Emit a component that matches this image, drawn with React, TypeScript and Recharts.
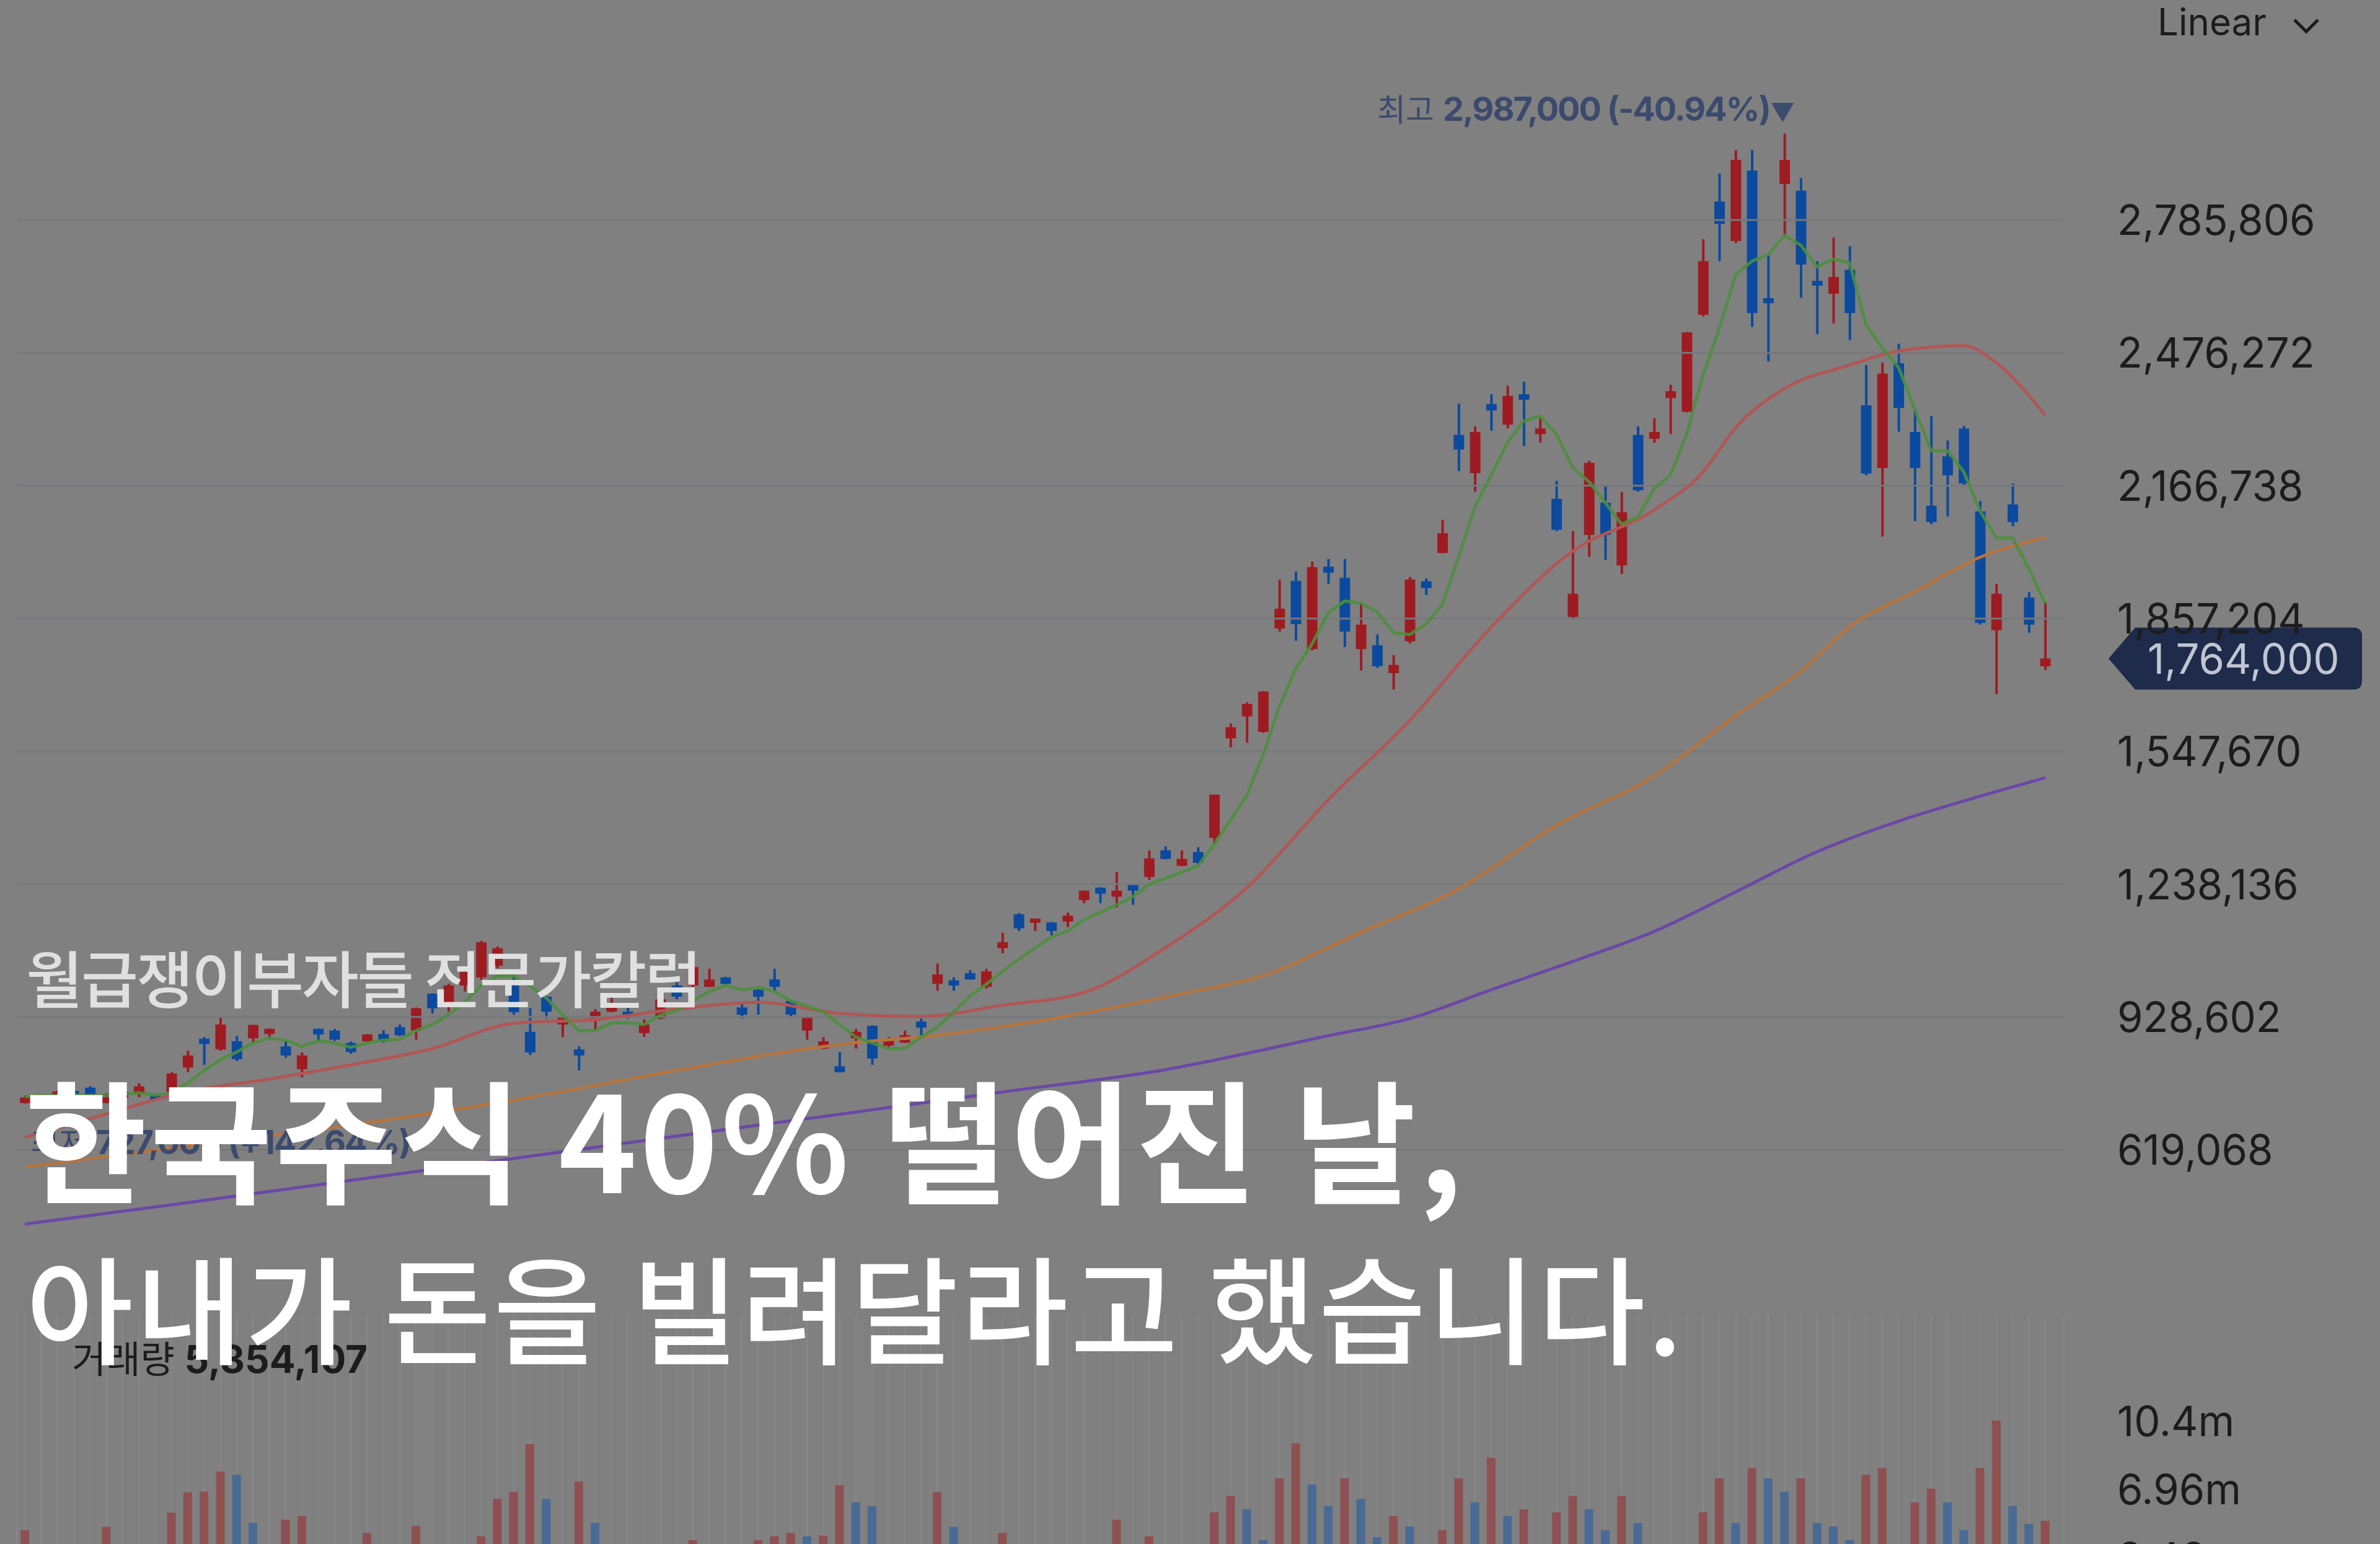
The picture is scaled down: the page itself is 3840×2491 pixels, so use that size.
import React from "react";
import {
  Bar,
  CartesianGrid,
  Cell,
  ComposedChart,
  Line,
  ReferenceDot,
  ReferenceLine,
  XAxis,
  YAxis,
} from "recharts";

// 일봉 시세 (단위: 천원)
const opens = [
  728, 733, 742, 756, 764, 728, 740, 749, 748, 754,
  811, 878, 853, 872, 879, 889, 860, 807, 901, 897,
  868, 872, 889, 905, 897, 983, 959, 1002, 1021, 1048,
  1002, 894, 976, 911, 853, 920, 941, 941, 891, 925,
  1002, 1002, 999, 1021, 951, 992, 1016, 966, 897, 855,
  814, 879, 908, 862, 869, 918, 1006, 1014, 1031, 999,
  1089, 1168, 1148, 1149, 1151, 1201, 1230, 1209, 1239, 1255,
  1317, 1281, 1313, 1346, 1578, 1629, 1593, 1834, 1945, 1786,
  1978, 1952, 1786, 1795, 1730, 1804, 1944, 2010, 2285, 2196,
  2357, 2309, 2380, 2287, 2136, 1861, 2052, 2127, 1981, 2285,
  2276, 2371, 2339, 2565, 2829, 2737, 2901, 2604, 2870, 2854,
  2644, 2614, 2670, 2354, 2208, 2452, 2292, 2120, 2235, 2300,
  2107, 1830, 2123, 1906, 1746,
];
const highs = [
  745, 749, 758, 760, 767, 751, 760, 774, 749, 800,
  850, 882, 927, 884, 911, 902, 872, 846, 902, 901,
  872, 889, 898, 911, 951, 984, 1006, 1045, 1106, 1093,
  1027, 949, 977, 934, 860, 947, 977, 951, 923, 976,
  1009, 1055, 1041, 1022, 959, 993, 1041, 969, 931, 882,
  847, 901, 909, 882, 897, 925, 1053, 1021, 1038, 1041,
  1125, 1171, 1158, 1150, 1172, 1224, 1231, 1266, 1240, 1317,
  1326, 1317, 1324, 1447, 1613, 1662, 1688, 1948, 1967, 1990,
  1996, 1996, 1895, 1820, 1772, 1954, 1951, 2087, 2358, 2305,
  2380, 2400, 2409, 2325, 2178, 2061, 2225, 2169, 2152, 2305,
  2324, 2402, 2525, 2741, 2894, 2949, 2949, 2705, 2987, 2884,
  2690, 2745, 2725, 2448, 2454, 2498, 2344, 2329, 2272, 2306,
  2131, 1938, 2172, 1919, 1895,
];
const lows = [
  727, 730, 738, 745, 733, 728, 736, 742, 733, 732,
  800, 817, 850, 826, 869, 882, 834, 788, 872, 873,
  843, 869, 869, 884, 876, 937, 941, 988, 1016, 1042,
  934, 840, 925, 882, 804, 897, 940, 925, 882, 923,
  970, 999, 998, 1002, 925, 934, 988, 927, 876, 854,
  799, 855, 817, 858, 868, 886, 990, 990, 1016, 995,
  1077, 1129, 1129, 1119, 1138, 1194, 1194, 1184, 1190, 1248,
  1296, 1280, 1284, 1334, 1557, 1568, 1591, 1827, 1805, 1783,
  1938, 1791, 1736, 1742, 1692, 1799, 1912, 2009, 2201, 2153,
  2295, 2300, 2259, 2267, 2061, 1857, 2001, 1994, 1961, 2153,
  2267, 2287, 2338, 2561, 2690, 2732, 2537, 2456, 2750, 2605,
  2520, 2545, 2506, 2191, 2048, 2293, 2084, 2077, 2095, 2168,
  1843, 1681, 2072, 1824, 1737,
];
const closes = [
  741, 748, 755, 750, 736, 741, 755, 767, 736, 797,
  839, 866, 911, 830, 910, 901, 839, 839, 888, 876,
  847, 888, 872, 886, 949, 949, 1002, 1034, 1103, 1089,
  940, 846, 941, 930, 839, 941, 954, 927, 911, 970,
  976, 1045, 1016, 1006, 934, 976, 999, 934, 927, 872,
  800, 894, 832, 876, 886, 904, 1028, 1002, 1016, 1035,
  1103, 1135, 1158, 1129, 1165, 1223, 1216, 1223, 1223, 1298,
  1297, 1297, 1288, 1447, 1604, 1658, 1687, 1880, 1844, 1977,
  1964, 1827, 1843, 1746, 1749, 1948, 1928, 2056, 2251, 2292,
  2342, 2376, 2367, 2300, 2064, 1915, 2220, 2052, 2105, 2156,
  2292, 2387, 2524, 2690, 2777, 2926, 2569, 2592, 2926, 2682,
  2633, 2653, 2569, 2195, 2428, 2348, 2208, 2082, 2191, 2172,
  1847, 1915, 2082, 1843, 1764,
];

// 5일 이동평균 (천원), 봉마다 읽음
const ma5 = [
  743, 746, 746, 746, 746, 746, 749, 752, 746, 752,
  775, 804, 829, 847, 868, 879, 875, 860, 873, 868,
  858, 868, 875, 876, 897, 911, 934, 963, 1002, 1024,
  1024, 1002, 973, 934, 897, 897, 915, 915, 911, 933,
  944, 966, 988, 1002, 992, 998, 988, 966, 954, 940,
  911, 882, 868, 855, 855, 882, 905, 940, 977, 1005,
  1035, 1063, 1090, 1115, 1129, 1155, 1172, 1190, 1209, 1237,
  1252, 1266, 1281, 1331, 1388, 1445, 1539, 1653, 1740, 1798,
  1870, 1898, 1893, 1873, 1824, 1820, 1844, 1890, 2001, 2118,
  2192, 2267, 2318, 2329, 2287, 2209, 2176, 2127, 2077, 2094,
  2160, 2192, 2287, 2425, 2533, 2659, 2690, 2705, 2750, 2727,
  2677, 2695, 2686, 2542, 2488, 2442, 2344, 2248, 2248, 2199,
  2108, 2045, 2045, 1973, 1892,
];

// 20/60/120일 이동평균: [봉 번호, 천원] 그림에서 읽은 지점
const ma20Points: [number, number][] = [
  [0, 648], [5, 703], [10, 755], [15, 784], [20, 817], [25, 855], [30, 914],
  [35, 923], [40, 947], [45, 963], [50, 937], [55, 930], [60, 956], [65, 986],
  [70, 1090], [75, 1230], [80, 1435], [85, 1620], [90, 1837], [95, 2014],
  [100, 2110], [103, 2199], [105, 2302], [108, 2393], [112, 2448], [115, 2481],
  [119, 2493], [121, 2453], [124, 2331],
];
const ma60Points: [number, number][] = [
  [0, 579], [10, 628], [20, 677], [30, 735], [40, 804], [46, 843], [51, 869],
  [55, 882], [62, 918], [71, 983], [76, 1025], [82, 1126], [88, 1227],
  [94, 1375], [100, 1490], [105, 1631], [109, 1734], [112, 1838], [116, 1920],
  [120, 2000], [124, 2046],
];
const ma120Points: [number, number][] = [
  [0, 446], [10, 496], [20, 548], [30, 599], [40, 651], [50, 702], [60, 754],
  [70, 806], [80, 885], [85, 925], [90, 992], [95, 1058], [100, 1128],
  [105, 1220], [110, 1314], [115, 1385], [120, 1443], [124, 1486],
];

// 거래량 (천주)
const volumes = [
  4890, 3200, 2800, 2500, 3600, 5050, 3100, 3900, 2700, 5770,
  6820, 6850, 7880, 7710, 5260, 3400, 5420, 5600, 3500, 2900,
  3300, 4740, 3000, 3600, 5100, 3800, 3200, 3900, 4560, 6480,
  6840, 9270, 6480, 3900, 7370, 5260, 3700, 2900, 3400, 3800,
  3100, 4370, 3600, 2600, 3300, 4370, 4560, 4740, 4560, 4600,
  7180, 6300, 6110, 3900, 3500, 3800, 6820, 5050, 3700, 3900,
  4740, 3600, 2900, 3200, 3000, 3700, 2800, 5420, 3300, 4560,
  3400, 2700, 3600, 5790, 6630, 5950, 4370, 7530, 9320, 7210,
  6110, 7530, 6480, 4520, 5600, 5070, 3800, 4890, 7530, 6300,
  8580, 5600, 5950, 3900, 5790, 6630, 5950, 4890, 6630, 5240,
  3800, 3500, 4000, 5790, 7530, 5240, 8060, 7530, 6840, 7530,
  5240, 5070, 4370, 7710, 8060, 3900, 6300, 7000, 6300, 4890,
  8060, 10480, 6110, 5200, 5354.107,
];

const priceTicks = [619068, 928602, 1238136, 1547670, 1857204, 2166738, 2476272, 2785806];
const volumeTicks = [3480000, 6960000, 10440000];

const BG = "#808080";
const GRID = "#76787b";
const AXIS_TEXT = "#1c1c1c";
const UP = "#9f1b22";
const DOWN = "#0b4a9e";
const VOL_UP = "#8e5052";
const VOL_DOWN = "#496a94";
const LABEL_NAVY = "#3b4a6d";
const KR = "'Noto Sans CJK KR', sans-serif";
const LATIN = "Inter, 'Noto Sans', sans-serif";

const W = 3840;
const H = 2491;
const AXIS_W = 480;
const PRICE_MARGIN = { top: 100, right: 30, bottom: 20, left: 27 };
const VOL_MARGIN = { top: 0, right: 30, bottom: 0, left: 27 };

const toMap = (pts: [number, number][]) => new Map(pts.map(([i, v]) => [i, v * 1000]));
const ma20Map = toMap(ma20Points);
const ma60Map = toMap(ma60Points);
const ma120Map = toMap(ma120Points);

const rows = closes.map((c, i) => ({
  i,
  open: opens[i] * 1000,
  high: highs[i] * 1000,
  low: lows[i] * 1000,
  close: c * 1000,
  ma5: ma5[i] * 1000,
  ma20: ma20Map.get(i) ?? null,
  ma60: ma60Map.get(i) ?? null,
  ma120: ma120Map.get(i) ?? null,
  volume: Math.round(volumes[i] * 1000),
  volUp: i === 0 || volumes[i] >= volumes[i - 1],
}));

const last = rows[rows.length - 1];
const hiRow = rows.reduce((m, r) => (r.high > m.high ? r : m), rows[0]);
const loRow = rows.reduce((m, r) => (r.low < m.low ? r : m), rows[0]);

const won = (v: number) => Math.round(v).toLocaleString("en-US");
const pct = (v: number) => `${v > 0 ? "+" : ""}${v.toFixed(2)}%`;
const shortM = (v: number) => `${Number((v / 1e6).toPrecision(3))}m`;

function Candle(props: any) {
  const { x, y, width, height, payload } = props;
  if (x == null || y == null || !payload) return null;
  const top = Math.min(y, y + height);
  const h = Math.abs(height);
  const range = payload.high - payload.low;
  const py = (p: number) => (range === 0 ? top : top + ((payload.high - p) / range) * h);
  const color = payload.close >= payload.open ? UP : DOWN;
  const cx = x + width / 2;
  const bTop = py(Math.max(payload.open, payload.close));
  const bBot = py(Math.min(payload.open, payload.close));
  return (
    <g>
      <rect x={cx - 2} y={top} width={4} height={Math.max(h, 2)} fill={color} />
      <rect x={x} y={bTop} width={width} height={Math.max(bBot - bTop, 4)} fill={color} />
    </g>
  );
}

function AxisTick(props: any) {
  const { x, y, payload, fmt } = props;
  return (
    <text x={x + 86} y={y} dy="0.36em" fill={AXIS_TEXT} fontSize={67} fontFamily={LATIN}>
      {fmt(payload.value)}
    </text>
  );
}

function PriceTag(props: any) {
  const vb = props.viewBox;
  if (!vb) return null;
  const cy = vb.y;
  const l = 3402;
  const r = 3811;
  const d = `M ${l} ${cy} L ${l + 43} ${cy - 50} L ${r - 14} ${cy - 50} Q ${r} ${cy - 50} ${r} ${cy - 36} L ${r} ${cy + 36} Q ${r} ${cy + 50} ${r - 14} ${cy + 50} L ${l + 43} ${cy + 50} Z`;
  return (
    <g>
      <path d={d} fill="#1e2b4b" />
      <text x={3465} y={cy + 25} fill="#c0c6d2" fontSize={67} fontFamily={LATIN}>
        {won(last.close)}
      </text>
    </g>
  );
}

function HighLabel(props: any) {
  const vb = props.viewBox;
  if (!vb) return null;
  const cx = vb.x + (vb.width || 0) / 2;
  const cy = vb.y + (vb.height || 0) / 2;
  return (
    <text x={cx + 17} y={cy - 21} textAnchor="end" fill={LABEL_NAVY} fontFamily={LATIN}>
      <tspan fontFamily={KR} fontSize={50}>최고</tspan>
      <tspan dx={14} fontSize={54} fontWeight={700} letterSpacing={-2}>
        {`${won(hiRow.high)} (${pct(((last.close - hiRow.high) / hiRow.high) * 100)})`}
      </tspan>
      <tspan fontSize={40}>▼</tspan>
    </text>
  );
}

function LowLabel(props: any) {
  const vb = props.viewBox;
  if (!vb) return null;
  const cx = vb.x + (vb.width || 0) / 2;
  const cy = vb.y + (vb.height || 0) / 2;
  return (
    <text x={cx + 9} y={cy + 82} fill={LABEL_NAVY} fontFamily={LATIN}>
      <tspan fontFamily={KR} fontSize={50}>최저</tspan>
      <tspan dx={14} fontSize={54} fontWeight={700} letterSpacing={-2}>
        {`${won(loRow.low)} (${pct(((last.close - loRow.low) / loRow.low) * 100)})`}
      </tspan>
    </text>
  );
}

const lineProps = { dot: false, activeDot: false, connectNulls: true, isAnimationActive: false } as const;

export default function App() {
  return (
    <div style={{ position: "absolute", left: 0, top: 0, width: W, height: H, overflow: "hidden", background: BG }}>
      <div style={{ position: "absolute", left: 0, top: 0 }}>
        <ComposedChart width={W} height={2120} data={rows} margin={PRICE_MARGIN}>
          <XAxis dataKey="i" type="category" hide padding={{ left: 0, right: 17 }} />
          <YAxis
            orientation="right"
            width={AXIS_W}
            type="number"
            domain={[265328, 3154128]}
            allowDataOverflow
            ticks={priceTicks}
            interval={0}
            tickLine={false}
            axisLine={false}
            tickSize={0}
            tickMargin={0}
            tick={<AxisTick fmt={won} />}
          />
          {priceTicks.map((t) => (
            <ReferenceLine key={t} y={t} stroke={GRID} strokeWidth={3} />
          ))}
          <Bar
            dataKey={(d: any) => [d.low, d.high]}
            barSize={17}
            shape={<Candle />}
            isAnimationActive={false}
          />
          <Line dataKey="ma120" type="monotone" stroke="#6a48a6" strokeWidth={5} {...lineProps} />
          <Line dataKey="ma60" type="monotone" stroke="#b5743f" strokeWidth={5} {...lineProps} />
          <Line dataKey="ma20" type="monotone" stroke="#b15656" strokeWidth={5} {...lineProps} />
          <Line dataKey="ma5" type="linear" stroke="#4c8e3d" strokeWidth={5} strokeOpacity={0.9} {...lineProps} />
          <ReferenceLine y={last.close} stroke="none" label={<PriceTag />} />
          <ReferenceDot x={hiRow.i} y={hiRow.high} r={1} fill="none" stroke="none" label={<HighLabel />} />
          <ReferenceDot x={loRow.i} y={loRow.low} r={1} fill="none" stroke="none" label={<LowLabel />} />
        </ComposedChart>
      </div>

      <div style={{ position: "absolute", left: 0, top: 2120 }}>
        <ComposedChart width={W} height={503} data={rows} margin={VOL_MARGIN}>
          <CartesianGrid horizontal={false} stroke="#888889" strokeWidth={2} />
          <XAxis dataKey="i" type="category" hide interval={0} padding={{ left: 0, right: 17 }} />
          <YAxis
            orientation="right"
            width={AXIS_W}
            type="number"
            domain={[0, 15912908]}
            allowDataOverflow
            ticks={volumeTicks}
            interval={0}
            tickLine={false}
            axisLine={false}
            tickSize={0}
            tickMargin={0}
            tick={<AxisTick fmt={shortM} />}
          />
          <Bar dataKey="volume" barSize={14} isAnimationActive={false}>
            {rows.map((r) => (
              <Cell key={r.i} fill={r.volUp ? VOL_UP : VOL_DOWN} />
            ))}
          </Bar>
        </ComposedChart>
      </div>

      <svg width={W} height={H} style={{ position: "absolute", left: 0, top: 0, pointerEvents: "none" }}>
        <text x={3481} y={57} fill={AXIS_TEXT} fontSize={60} fontFamily={LATIN}>Linear</text>
        <polyline points="3702,32 3721,51 3740,32" fill="none" stroke={AXIS_TEXT} strokeWidth={5} />

        <text x={116} y={2215} fill={AXIS_TEXT} fontFamily={LATIN}>
          <tspan fontFamily={KR} fontSize={60}>거래량</tspan>
          <tspan dx={16} fontSize={62} fontWeight={700}>{won(last.volume)}</tspan>
        </text>

        <text x={42} y={1618} fill="#e0e0e0" fontSize={100} fontWeight={500} letterSpacing={-3} fontFamily={KR}>
          월급쟁이부자들 전문가칼럼
        </text>
        <text x={40} y={1925} fill="#ffffff" fontSize={214} fontWeight={700} letterSpacing={5} fontFamily={KR}>
          한국주식 40% 떨어진 날,
        </text>
        <text x={42} y={2186} fill="#ffffff" fontSize={188} fontWeight={500} letterSpacing={4} fontFamily={KR}>
          아내가 돈을 빌려달라고 했습니다.
        </text>
      </svg>
    </div>
  );
}
